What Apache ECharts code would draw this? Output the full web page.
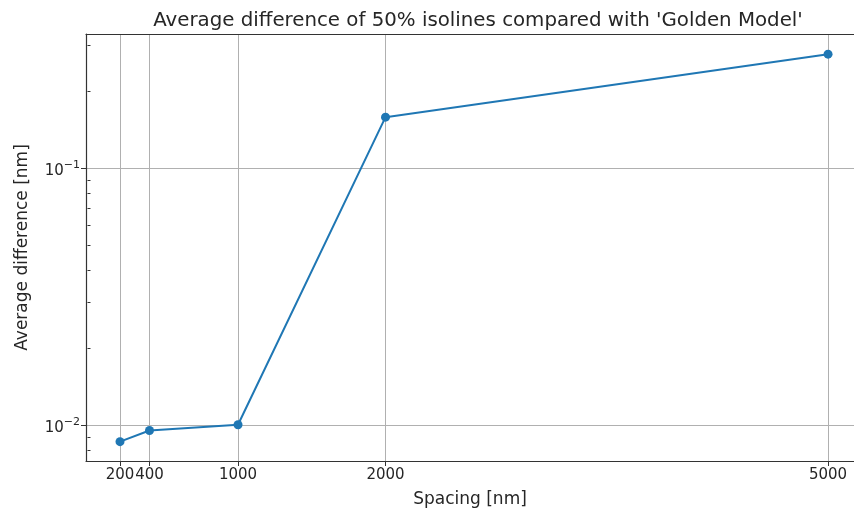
<!DOCTYPE html>
<html>
<head>
<meta charset="utf-8">
<script src="https://cdn.jsdelivr.net/npm/echarts@6/dist/echarts.min.js"></script>
<style>
  html, body { margin: 0; padding: 0; background: #fff; }
  #chart { width: 854px; height: 513px; }
</style>
</head>
<body>
<div id="chart"></div>
<script>
// Spacing between sample points and the resulting mean isoline offset
const spacing = [200, 400, 1000, 2000, 5000];
const avgDiff = [0.00862, 0.00953, 0.01003, 0.158, 0.278];

const xTicks = [200, 400, 1000, 2000, 5000];
const yMajorTicks = [0.01, 0.1];
const yMinorTicks = [0.008, 0.009, 0.02, 0.03, 0.04, 0.05, 0.06, 0.07, 0.08, 0.09, 0.2, 0.3];

const textColor = '#262626';
const axisColor = '#333';
const gridColor = '#b0b0b0';
const fontFamily = 'DejaVu Sans';

const chart = echarts.init(document.getElementById('chart'));

chart.setOption({
  animation: false,
  backgroundColor: '#fff',
  textStyle: { fontFamily: fontFamily, color: textColor },
  title: {
    text: "Average difference of 50% isolines compared with 'Golden Model'",
    left: 473,
    textAlign: 'center',
    top: 6,
    textStyle: { fontFamily: fontFamily, fontSize: 19.8, fontWeight: 'normal', color: textColor }
  },
  grid: { left: 86, top: 34, right: 0, bottom: 50, show: false },
  xAxis: [
    {
      type: 'value',
      min: -30.5, max: 5176,
      name: 'Spacing [nm]',
      nameLocation: 'middle',
      nameGap: 30,
      nameTextStyle: { fontSize: 17, color: textColor, fontFamily: fontFamily },
      axisLine: { show: true, onZero: false, lineStyle: { color: axisColor, width: 1.2 } },
      axisTick: { show: true, customValues: xTicks, length: 5, lineStyle: { color: axisColor } },
      axisLabel: {
        customValues: xTicks, fontSize: 15, color: textColor, margin: 7,
        formatter: v => String(v)
      },
      splitLine: { show: true, lineStyle: { color: gridColor, width: 1 } }
    },
    {
      // top frame edge
      type: 'value',
      position: 'top',
      min: -30.5, max: 5176,
      axisLine: { show: true, onZero: false, lineStyle: { color: axisColor, width: 1.2 } },
      axisTick: { show: false },
      axisLabel: { show: false },
      splitLine: { show: false }
    }
  ],
  yAxis: [
    {
      type: 'log',
      logBase: 10,
      min: 0.00725, max: 0.333,
      name: 'Average difference [nm]',
      nameLocation: 'middle',
      nameGap: 55,
      nameRotate: 90,
      nameTextStyle: { fontSize: 17, color: textColor, fontFamily: fontFamily },
      axisLine: { show: true, onZero: false, lineStyle: { color: axisColor, width: 1.2 } },
      axisTick: { show: true, customValues: yMajorTicks, length: 5, lineStyle: { color: axisColor } },
      axisLabel: {
        customValues: yMajorTicks,
        margin: 6,
        padding: [6, 0, 0, 0],
        formatter: v => '{b|10}{s|\u2212' + Math.round(-Math.log10(v)) + '}',
        rich: {
          b: { fontSize: 15, color: textColor, fontFamily: fontFamily },
          s: { fontSize: 11, color: textColor, fontFamily: fontFamily, padding: [0, 0, 12, 0] }
        }
      },
      splitLine: { show: true, lineStyle: { color: gridColor, width: 1 } }
    },
    {
      type: 'log',
      logBase: 10,
      min: 0.00725, max: 0.333,
      position: 'left',
      axisLine: { show: false },
      axisTick: { show: true, customValues: yMinorTicks, length: 3, lineStyle: { color: axisColor } },
      axisLabel: { show: false },
      splitLine: { show: false }
    }
  ],
  series: [{
    type: 'line',
    data: spacing.map((s, i) => [s, avgDiff[i]]),
    xAxisIndex: 0,
    yAxisIndex: 0,
    symbol: 'circle',
    symbolSize: 9,
    showSymbol: true,
    lineStyle: { color: '#1f77b4', width: 2 },
    itemStyle: { color: '#1f77b4' },
    z: 5
  }]
});
</script>
</body>
</html>
